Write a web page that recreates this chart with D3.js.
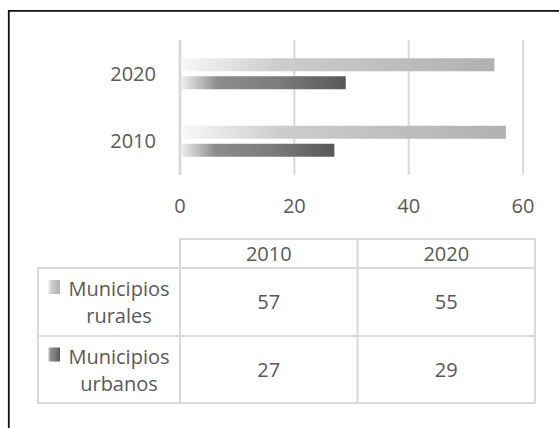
<!DOCTYPE html>
<html>
<head>
<meta charset="utf-8">
<script src="https://cdn.jsdelivr.net/npm/d3@7"></script>
<style>
  body { margin: 0; background: #fff; }
  text { font-family: "Open Sans", sans-serif; fill: #595959; }
</style>
</head>
<body>
<script>
var width = 559
var height = 428

// data
var categories = ["2010", "2020"]
var seriesNames = ["Municipios rurales", "Municipios urbanos"]
var rurales = [57, 55]
var urbanos = [27, 29]
var xTicks = [0, 20, 40, 60]

var series = [
    {name: seriesNames[0], values: rurales, fill: "url(#gradRural)"},
    {name: seriesNames[1], values: urbanos, fill: "url(#gradUrban)"}
]

var svg = d3.select("body")
    .append("svg")
        .attr("width", width)
        .attr("height", height)

var defs = svg.append("defs")

function gradient(id, stops) {
    var g = defs.append("linearGradient")
        .attr("id", id)
        .attr("x1", "0%").attr("x2", "100%")
        .attr("y1", "0%").attr("y2", "0%")
    stops.forEach(function(s) {
        g.append("stop").attr("offset", s[0]).attr("stop-color", s[1])
    })
}
gradient("gradRural", [["0%", "#f8f8f8"], ["30%", "#cdcdcd"], ["100%", "#b1b1b1"]])
gradient("gradUrban", [["0%", "#ededed"], ["22%", "#8c8c8c"], ["60%", "#7b7b7b"], ["100%", "#585858"]])

svg.append("rect").attr("width", width).attr("height", height).attr("fill", "#fff")

// frame (only top and left edges visible)
svg.append("path")
    .attr("d", "M8.8,428 V10.8 H559")
    .attr("fill", "none")
    .attr("stroke", "#111")
    .attr("stroke-width", 1.8)

var x = d3.scaleLinear()
    .domain([0, 60])
    .range([180, 523])

// first category at the bottom, like the original
var y0 = d3.scaleBand()
    .domain(categories.slice().reverse())
    .range([40, 175])

var groupH = 31
var y1 = d3.scaleBand()
    .domain(seriesNames)
    .range([y0.bandwidth() / 2 - groupH / 2, y0.bandwidth() / 2 + groupH / 2])
    .paddingInner(5 / 18)

// gridlines
svg.selectAll("line.grid")
    .data(xTicks)
    .enter()
    .append("line")
        .attr("x1", function(d) { return x(d) })
        .attr("x2", function(d) { return x(d) })
        .attr("y1", 40)
        .attr("y2", 175)
        .attr("stroke", "#d9d9d9")
        .attr("stroke-width", function(d) { return d === 0 ? 3 : 2 })

// bars
var groups = svg.selectAll("g.cat")
    .data(categories)
    .enter()
    .append("g")
        .attr("transform", function(d) { return "translate(0," + y0(d) + ")" })

groups.selectAll("rect")
    .data(function(c, i) {
        return series.map(function(s) { return {name: s.name, value: s.values[i], fill: s.fill} })
    })
    .enter()
    .append("rect")
        .attr("x", x(0) + 1.5)
        .attr("y", function(d) { return y1(d.name) })
        .attr("width", function(d) { return x(d.value) - x(0) - 1.5 })
        .attr("height", y1.bandwidth())
        .attr("fill", function(d) { return d.fill })

// category labels
svg.selectAll("text.cat")
    .data(categories)
    .enter()
    .append("text")
        .attr("x", 156)
        .attr("y", function(d) { return y0(d) + y0.bandwidth() / 2 })
        .attr("dy", "0.35em")
        .attr("text-anchor", "end")
        .style("font-size", "20px")
        .text(function(d) { return d })

// value axis labels
svg.selectAll("text.tick")
    .data(xTicks)
    .enter()
    .append("text")
        .attr("x", function(d) { return x(d) })
        .attr("y", 206)
        .attr("dy", "0.35em")
        .attr("text-anchor", "middle")
        .style("font-size", "20px")
        .text(function(d) { return d })

// data table
var colX = d3.scaleBand()
    .domain(categories)
    .range([180, 535])
var rowY = [239, 268, 336, 403]
var leftX = 38
var border = "#d9d9d9"

var tbl = svg.append("g")
    .attr("fill", "none")
    .attr("stroke", border)
    .attr("stroke-width", 2)

// header row cells
tbl.append("rect")
    .attr("x", colX.range()[0]).attr("y", rowY[0])
    .attr("width", colX.range()[1] - colX.range()[0]).attr("height", rowY[1] - rowY[0])
// body
tbl.append("rect")
    .attr("x", leftX).attr("y", rowY[1])
    .attr("width", colX.range()[1] - leftX).attr("height", rowY[3] - rowY[1])
tbl.append("line")
    .attr("x1", leftX).attr("x2", colX.range()[1])
    .attr("y1", rowY[2]).attr("y2", rowY[2])
categories.forEach(function(c) {
    tbl.append("line")
        .attr("x1", colX(c)).attr("x2", colX(c))
        .attr("y1", rowY[0]).attr("y2", rowY[3])
})

svg.selectAll("text.head")
    .data(categories)
    .enter()
    .append("text")
        .attr("x", function(d) { return colX(d) + colX.bandwidth() / 2 })
        .attr("y", (rowY[0] + rowY[1]) / 2)
        .attr("dy", "0.35em")
        .attr("text-anchor", "middle")
        .style("font-size", "20px")
        .text(function(d) { return d })

series.forEach(function(s, si) {
    var top = rowY[si + 1]
    var bottom = rowY[si + 2]
    var mid = (top + bottom) / 2
    var words = s.name.split(" ")

    svg.append("rect")
        .attr("x", 48)
        .attr("y", mid - 22)
        .attr("width", 12)
        .attr("height", 14)
        .attr("fill", s.fill)

    words.forEach(function(w, wi) {
        svg.append("text")
            .attr("x", 119)
            .attr("y", mid - 6 + wi * 27)
            .attr("text-anchor", "middle")
            .style("font-size", "20px")
            .text(w)
    })

    categories.forEach(function(c, ci) {
        svg.append("text")
            .attr("x", colX(c) + colX.bandwidth() / 2)
            .attr("y", mid)
            .attr("dy", "0.35em")
            .attr("text-anchor", "middle")
            .style("font-size", "20px")
            .text(s.values[ci])
    })
})
</script>
</body>
</html>
